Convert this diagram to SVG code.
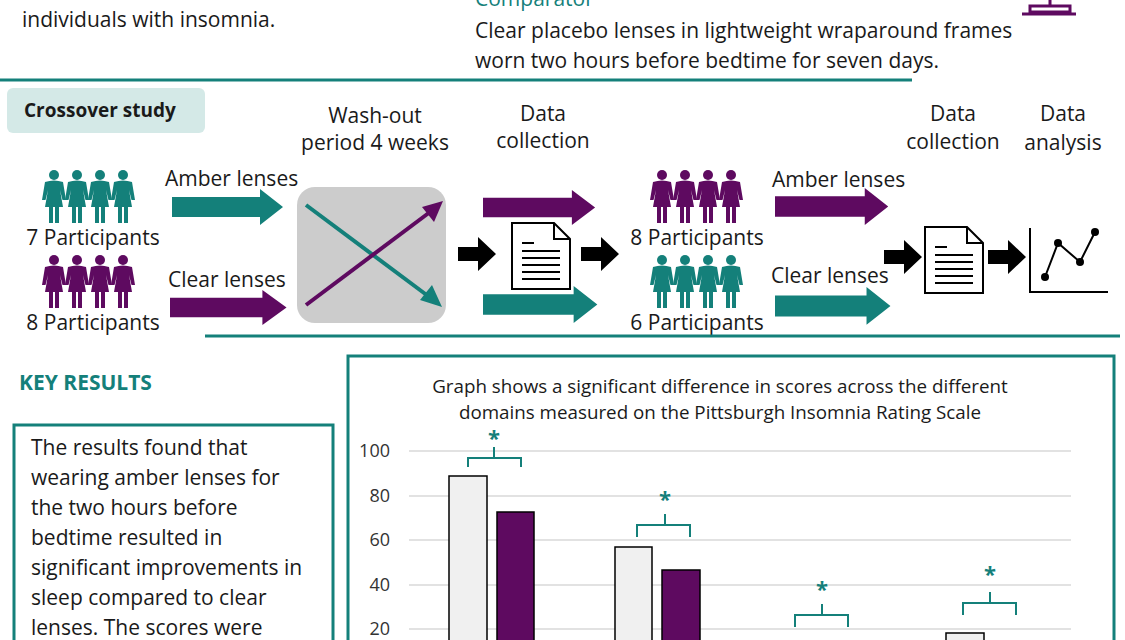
<svg xmlns="http://www.w3.org/2000/svg" xmlns:xlink="http://www.w3.org/1999/xlink" width="1125" height="640" viewBox="0 0 1125 640">
<style>
text{font-family:"Open Sans","Liberation Sans",sans-serif;fill:#1a1a1a}
.b{font-size:21px}
.c{text-anchor:middle}
.t{fill:#14807a}
.tf{fill:#14807a}
.pf{fill:#5e0a60}
.kf{fill:#000}
.ax{font-size:18px;text-anchor:end;fill:#333}
.grid{stroke:#d9d9d9;stroke-width:1.5}
.br{fill:none;stroke:#14807a;stroke-width:2}
.ast{font-size:22px;font-weight:bold;fill:#14807a;text-anchor:middle}
</style>
<defs>
<path id="arr" d="M0,8 H88 V0 L111,18 L88,36 V28 H0 Z"/>
<path id="karr" d="M0,10 H20 V0 L38,17 L20,34 V24 H0 Z"/>
<g id="person">
<circle cx="12" cy="5" r="5"/>
<path d="M3,12 Q12,9 21,12 L24,30 H20.5 L18,20 L21,37 H17 V53 H13 V37 H11 V53 H7 V37 H3 L6,20 L3.5,30 H0 Z"/>
</g>
<g id="people"><use xlink:href="#person" x="0"/><use xlink:href="#person" x="23"/><use xlink:href="#person" x="46"/><use xlink:href="#person" x="69"/></g>
<g id="doc">
<path d="M0,0 H42 L58,16 V66 H0 Z" fill="#fff" stroke="#000" stroke-width="2"/>
<path d="M42,0 V16 H58" fill="none" stroke="#000" stroke-width="2"/>
<path d="M10,20 H22 M10,28 H48 M10,35 H48 M10,42 H48 M10,49 H48 M10,56 H48" stroke="#000" stroke-width="2"/>
</g>
</defs>

<g id="header">
<text class="b" x="22" y="27">individuals with insomnia.</text>
<text class="b t" x="475" y="6">Comparator</text>
<text class="b" x="475" y="38">Clear placebo lenses in lightweight wraparound frames</text>
<text class="b" x="475" y="68">worn two hours before bedtime for seven days.</text>
<path d="M1050,0 V6 M1030,6 H1070 V12 H1030 Z M1022,14 H1076" stroke="#5e0a60" stroke-width="3" fill="none"/>
<line x1="0" y1="80" x2="912" y2="80" stroke="#14807a" stroke-width="3"/>
</g>

<g id="crossover-label">
<rect x="7" y="88" width="198" height="45" rx="6" fill="#d4e9e7"/>
<text x="24" y="117" style="font-size:19px;font-weight:bold">Crossover study</text>
</g>
<g id="headings">
<text class="b c" x="375" y="123">Wash-out</text>
<text class="b c" x="375" y="150">period 4 weeks</text>
<text class="b c" x="543" y="121">Data</text>
<text class="b c" x="543" y="148">collection</text>
<text class="b c" x="953" y="121">Data</text>
<text class="b c" x="953" y="149">collection</text>
<text class="b c" x="1063" y="121">Data</text>
<text class="b c" x="1063" y="150">analysis</text>
</g>

<g id="group-a"><use xlink:href="#people" class="tf" x="42" y="170"/><text class="b c" x="93" y="245">7 Participants</text></g>
<g id="group-b"><use xlink:href="#people" class="pf" x="42" y="255"/><text class="b c" x="93" y="330">8 Participants</text></g>
<g id="group-c"><use xlink:href="#people" class="pf" x="650" y="170"/><text class="b c" x="697" y="245">8 Participants</text></g>
<g id="group-d"><use xlink:href="#people" class="tf" x="650" y="255"/><text class="b c" x="697" y="330">6 Participants</text></g>

<g id="washout">
<rect x="297" y="187" width="149" height="136" rx="18" fill="#cccccc"/>
</g>
<g id="doc1"><use xlink:href="#doc" x="512" y="223"/></g>
<g id="doc2"><use xlink:href="#doc" x="925" y="227"/></g>
<g id="chart-icon">
<path d="M1030,228 V292 H1108" fill="none" stroke="#000" stroke-width="2"/>
<path d="M1045,277 L1058,243 L1080,262 L1095,232" fill="none" stroke="#000" stroke-width="2"/>
<circle cx="1045" cy="277" r="4"/><circle cx="1058" cy="243" r="4"/><circle cx="1080" cy="262" r="4"/><circle cx="1095" cy="232" r="4"/>
</g>

<g id="connectors">
<text class="b" x="165" y="186">Amber lenses</text>
<use xlink:href="#arr" class="tf" x="172" y="189"/>
<text class="b" x="168" y="287">Clear lenses</text>
<use xlink:href="#arr" class="pf" transform="translate(170,290) scale(1.05,0.97)"/>
<line x1="306" y1="205" x2="428" y2="296" stroke="#14807a" stroke-width="4"/>
<path d="M442,307 L420,300 L432,285 Z" class="tf"/>
<line x1="306" y1="305" x2="430" y2="212" stroke="#5e0a60" stroke-width="4"/>
<path d="M443,201 L434,222 L422,207 Z" class="pf"/>
<use xlink:href="#karr" class="kf" x="458" y="237"/>
<use xlink:href="#karr" class="kf" x="581" y="237"/>
<use xlink:href="#arr" class="pf" transform="translate(483,190) scale(1.01,0.97)"/>
<use xlink:href="#arr" class="tf" transform="translate(483,286) scale(1.03,1.03)"/>
<text class="b" x="772" y="187">Amber lenses</text>
<use xlink:href="#arr" class="pf" transform="translate(775,188) scale(1.02,1.03)"/>
<text class="b" x="771" y="283">Clear lenses</text>
<use xlink:href="#arr" class="tf" transform="translate(775,287) scale(1.04,1.05)"/>
<use xlink:href="#karr" class="kf" x="884" y="240"/>
<use xlink:href="#karr" class="kf" x="988" y="240"/>
<line x1="205" y1="336" x2="1120" y2="336" stroke="#14807a" stroke-width="3"/>
</g>

<g id="key-results">
<text x="19" y="390" style="font-size:21px;font-weight:bold;fill:#14807a">KEY RESULTS</text>
<rect x="14" y="425" width="319" height="230" fill="none" stroke="#14807a" stroke-width="3"/>
<g style="font-size:21px">
<text x="31" y="455">The results found that</text>
<text x="31" y="485">wearing amber lenses for</text>
<text x="31" y="515">the two hours before</text>
<text x="31" y="545">bedtime resulted in</text>
<text x="31" y="575">significant improvements in</text>
<text x="31" y="605">sleep compared to clear</text>
<text x="31" y="635">lenses. The scores were</text>
</g>
</g>

<g id="graph">
<rect x="348" y="356" width="766" height="300" fill="none" stroke="#14807a" stroke-width="3"/>
<text class="c" x="720" y="393" style="font-size:18.8px">Graph shows a significant difference in scores across the different</text>
<text class="c" x="720" y="419" style="font-size:18.8px">domains measured on the Pittsburgh Insomnia Rating Scale</text>
<g class="grid">
<line x1="409" y1="451" x2="1071" y2="451"/><line x1="409" y1="496" x2="1071" y2="496"/>
<line x1="409" y1="540" x2="1071" y2="540"/><line x1="409" y1="585" x2="1071" y2="585"/>
<line x1="409" y1="629" x2="1071" y2="629"/>
</g>
<text class="ax" x="390" y="457">100</text><text class="ax" x="390" y="502">80</text>
<text class="ax" x="390" y="546">60</text><text class="ax" x="390" y="591">40</text><text class="ax" x="390" y="635">20</text>
<g stroke="#000" stroke-width="1.5">
<rect x="449" y="476" width="38" height="200" fill="#f0f0f0"/>
<rect x="497" y="512" width="37" height="170" fill="#5e0a60"/>
<rect x="615" y="547" width="37" height="130" fill="#f0f0f0"/>
<rect x="662" y="570" width="38" height="100" fill="#5e0a60"/>
<rect x="946" y="633" width="38" height="40" fill="#f0f0f0"/>
</g>
<path class="br" d="M468,467 V458 H494 V447 M494,458 H521 V467"/>
<text class="ast" x="494" y="446">*</text>
<path class="br" d="M637,537 V525 H665 V514 M665,525 H690 V537"/>
<text class="ast" x="665" y="507">*</text>
<path class="br" d="M795,627 V615 H822 V604 M822,615 H848 V627"/>
<text class="ast" x="822" y="597">*</text>
<path class="br" d="M963,615 V603 H990 V592 M990,603 H1016 V615"/>
<text class="ast" x="990" y="582">*</text>
</g>
</svg>
